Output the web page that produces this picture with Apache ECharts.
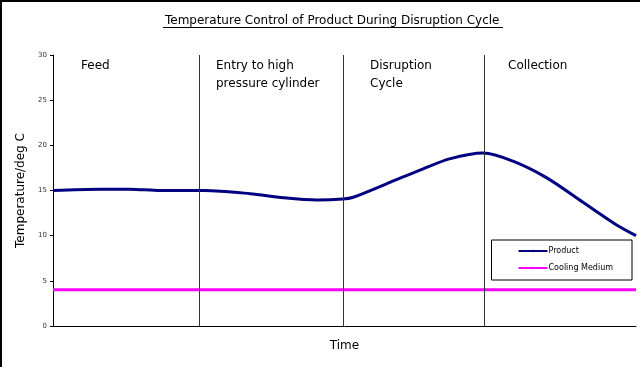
<!DOCTYPE html>
<html>
<head>
<meta charset="utf-8">
<script src="https://cdn.jsdelivr.net/npm/echarts@6/dist/echarts.min.js"></script>
<style>html,body{margin:0;padding:0;background:#fff}#c{width:640px;height:367px}</style>
</head>
<body>
<div id="c"></div>
<script>
var titleText = 'Temperature Control of Product During Disruption Cycle';
var yName = 'Temperature/deg C';
var xName = 'Time';
var yTicks = [0, 5, 10, 15, 20, 25, 30];
var productTime = [0, 8, 13.2, 18.4, 26, 33.8, 39.5, 45.3, 49.7, 51.5, 57.8, 63.5, 68, 73.8, 78.9, 84.7, 90.9, 96.4, 100];
var productTemp = [15.0, 15.15, 15.15, 15.0, 15.0, 14.65, 14.2, 13.95, 14.05, 14.25, 15.9, 17.4, 18.5, 19.15, 18.25, 16.4, 13.7, 11.3, 10.0];
var coolingTime = [0, 100];
var coolingTemp = [4, 4];
var phaseBoundaries = [25, 49.7, 73.9];
var phaseLabels = ['Feed', 'Entry to high\npressure cylinder', 'Disruption\nCycle', 'Collection'];

var chart = echarts.init(document.getElementById('c'), null, {renderer: 'canvas'});
var font = 'DejaVu Sans';
var option = {
  animation: false,
  backgroundColor: '#fff',
  title: {
    text: titleText, left: 160, top: 10,
    textStyle: {fontFamily: font, fontSize: 12, fontWeight: 'normal', color: '#000'}
  },
  grid: {left: 53, right: 4, top: 55, bottom: 41},
  legend: {
    right: 8, top: 240, orient: 'vertical',
    backgroundColor: '#fff',
    borderColor: '#000', borderWidth: 1,
    padding: [7, 19, 8, 26], itemGap: 9,
    itemWidth: 29, itemHeight: 3,
    textStyle: {fontFamily: font, fontSize: 8, color: '#000', padding: [0, 0, 0, -4]},
    data: ['Product', 'Cooling Medium']
  },
  xAxis: {
    type: 'value', min: 0, max: 100,
    name: xName, nameLocation: 'middle', nameGap: 14,
    nameTextStyle: {fontFamily: font, fontSize: 12, color: '#000'},
    axisLine: {lineStyle: {color: '#000', width: 1}},
    axisTick: {show: false}, axisLabel: {show: false}, splitLine: {show: false}
  },
  yAxis: {
    type: 'value', min: 0, max: 30, interval: 5,
    name: yName, nameLocation: 'middle', nameGap: 25, nameRotate: 90,
    nameTextStyle: {fontFamily: font, fontSize: 12, color: '#000'},
    axisLine: {show: true, lineStyle: {color: '#000', width: 1}},
    axisTick: {show: true, length: 3, lineStyle: {color: '#000'}},
    axisLabel: {fontFamily: font, fontSize: 7, color: '#333', margin: 6,
      formatter: function (v) { return yTicks.indexOf(v) >= 0 ? String(v) : ''; }},
    splitLine: {show: false}
  },
  series: [
    {
      name: 'Product', type: 'line', smooth: 0.3, symbol: 'none',
      lineStyle: {color: '#000080', width: 3}, itemStyle: {color: '#000080'},
      data: productTime.map(function (t, i) { return [t, productTemp[i]]; }),
      z: 3,
      markLine: {
        silent: true, symbol: 'none', label: {show: false},
        lineStyle: {color: '#333', width: 1, type: 'solid'},
        data: phaseBoundaries.map(function (b) { return {xAxis: b}; })
      }
    },
    {
      name: 'Cooling Medium', type: 'line', symbol: 'none',
      lineStyle: {color: '#ff00ff', width: 3}, itemStyle: {color: '#ff00ff'},
      data: coolingTime.map(function (t, i) { return [t, coolingTemp[i]]; }),
      z: 3
    }
  ],
  graphic: [
    {type: 'line', shape: {x1: 0, y1: 1, x2: 640, y2: 1}, style: {stroke: '#000', lineWidth: 2}},
    {type: 'line', shape: {x1: 1, y1: 0, x2: 1, y2: 367}, style: {stroke: '#000', lineWidth: 2}},
    {type: 'line', shape: {x1: 163, y1: 27.5, x2: 503, y2: 27.5}, style: {stroke: '#000', lineWidth: 1}},
    {type: 'text', left: 81, top: 57, style: {text: phaseLabels[0], fontFamily: font, fontSize: 12, fill: '#000', lineHeight: 18}},
    {type: 'text', left: 216, top: 57, style: {text: phaseLabels[1], fontFamily: font, fontSize: 12, fill: '#000', lineHeight: 18}},
    {type: 'text', left: 370, top: 57, style: {text: phaseLabels[2], fontFamily: font, fontSize: 12, fill: '#000', lineHeight: 18}},
    {type: 'text', left: 508, top: 57, style: {text: phaseLabels[3], fontFamily: font, fontSize: 12, fill: '#000', lineHeight: 18}}
  ]
};
chart.setOption(option);
</script>
</body>
</html>
